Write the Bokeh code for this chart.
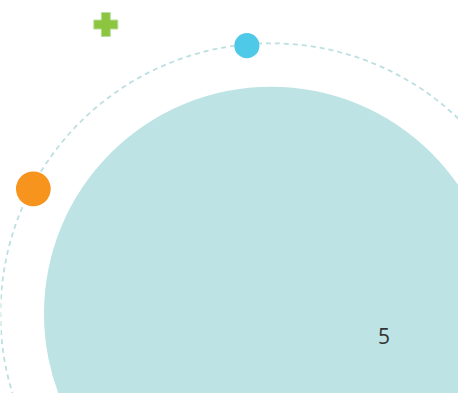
from bokeh.plotting import figure
from bokeh.models import Range1d
from bokeh.embed import file_html
from bokeh.resources import INLINE
from bokeh.core.properties import value

# Data (units ~ pixels, relative to the centre of the main bubble)
main_x = [0]
main_y = [0]
main_r = [235]
main_label = ["5"]
label_x = [117]
label_y = [-23]

orbit_r = [280]

dot_x = [-25, -246]
dot_y = [279, 130]
dot_r = [13, 18]
dot_colors = ["#4fc9e8", "#f7941d"]

plus_x = [-171]
plus_y = [301]

p = figure(width=458, height=393, output_backend="svg", toolbar_location=None,
           x_range=Range1d(-280, 194), y_range=Range1d(-83, 326),
           min_border=0)
p.axis.visible = False
p.grid.visible = False
p.outline_line_color = None
p.background_fill_color = "white"
p.border_fill_color = "white"

p.circle(x=main_x, y=main_y, radius=orbit_r, fill_color=None,
         line_color="#bddfe0", line_width=1.8, line_dash="5 4")
p.circle(x=main_x, y=main_y, radius=main_r, fill_color="#bde3e4", line_color=None)
p.circle(x=dot_x, y=dot_y, radius=dot_r, fill_color=dot_colors, line_color=None)
p.scatter(x=plus_x, y=plus_y, marker="plus", size=24, fill_color="#8cc63e",
          line_color="#b9dca0", line_width=1)
p.text(x=label_x, y=label_y, text=main_label, text_align="center",
       text_baseline="middle", text_font=value("Open Sans"),
       text_font_size="21px", text_color="#333333")

open("out.html", "w").write(file_html(p, INLINE))
